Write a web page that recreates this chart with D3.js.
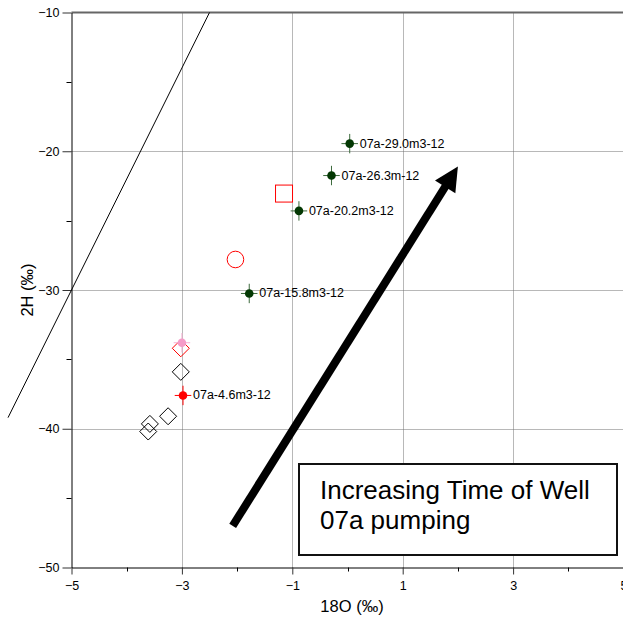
<!DOCTYPE html>
<html>
<head>
<meta charset="utf-8">
<script src="https://cdn.jsdelivr.net/npm/d3@7"></script>
<style>
  body { margin: 0; background: #fff; }
  text { font-family: "Liberation Sans", Arial, sans-serif; }
</style>
</head>
<body>
<div id="chart"></div>
<script>
// Labelled well 07a samples (18O, 2H in permil).
const wellLabels = ["07a-4.6m3-12", "07a-15.8m3-12", "07a-20.2m3-12", "07a-26.3m-12", "07a-29.0m3-12"];
const wellO18 = [-2.98, -1.78, -0.88, -0.29, 0.04];
const wellH2 = [-37.6, -30.25, -24.3, -21.75, -19.45];
const errO18 = 0.15;
const errH2 = 0.7;

// Other samples.
const pinkO18 = [-3.0];
const pinkH2 = [-33.8];
const redDiamondO18 = [-3.02];
const redDiamondH2 = [-34.2];
const diamondO18 = [-3.02, -3.25, -3.58, -3.61];
const diamondH2 = [-35.9, -39.1, -39.65, -40.2];
const squareO18 = [-1.15];
const squareH2 = [-23.05];
const circleO18 = [-2.03];
const circleH2 = [-27.8];

// Global meteoric water line: 2H = 8 * 18O + 10
const gmwlSlope = 8;
const gmwlIntercept = 10;
const gmwlRange = [-6.15, -2.5];

// Axis ticks
const xTicks = [-5, -3, -1, 1, 3, 5];
const xMinor = [-4, -2, 0, 2, 4];
const yTicks = [-10, -20, -30, -40, -50];
const yMinor = [-15, -25, -35, -45];

// Annotation
const arrowFrom = [-2.08, -47.0];
const arrowTo = [2.0, -21.1];
const boxLines = ["Increasing Time of Well", "07a pumping"];

let width = 623, height = 617;
let margin = {top: 12.5, left: 71.5};
let plot_right = 623.5, plot_bottom = 567.5;

let svg = d3.select("#chart")
.append("svg")
.attr("width", width)
.attr("height", height);

let x = d3.scaleLinear().domain([-5, 5]).range([margin.left, plot_right]);
let y = d3.scaleLinear().domain([-50, -10]).range([plot_bottom, margin.top]);

// Grid lines
svg.append("g")
.selectAll("line")
.data(xTicks.filter(d => d > -5))
.enter()
.append("line")
.attr("x1", d => Math.round(x(d)) + 0.5)
.attr("x2", d => Math.round(x(d)) + 0.5)
.attr("y1", y(-10))
.attr("y2", y(-50))
.attr("stroke", "#707070")
.attr("stroke-dasharray", "1,1");

svg.append("g")
.selectAll("line")
.data(yTicks.filter(d => d > -50 && d < -10))
.enter()
.append("line")
.attr("x1", x(-5))
.attr("x2", x(5))
.attr("y1", d => Math.round(y(d)) + 0.5)
.attr("y2", d => Math.round(y(d)) + 0.5)
.attr("stroke", "#707070")
.attr("stroke-dasharray", "1,1");

// Top border
svg.append("line")
.attr("x1", x(-5)).attr("x2", width)
.attr("y1", y(-10)).attr("y2", y(-10))
.attr("stroke", "#666")
.attr("stroke-width", 2);

// Axes
let xAxis = svg.append("g")
.attr("transform", "translate(0," + plot_bottom + ")")
.call(d3.axisBottom(x).tickValues(xTicks).tickSize(7).tickSizeOuter(0).tickPadding(7));
xAxis.append("g")
.selectAll("line")
.data(xMinor)
.enter()
.append("line")
.attr("x1", d => Math.round(x(d)) + 0.5)
.attr("x2", d => Math.round(x(d)) + 0.5)
.attr("y1", 0).attr("y2", 4)
.attr("stroke", "#000");

let yAxis = svg.append("g")
.attr("transform", "translate(" + margin.left + ",0)")
.call(d3.axisLeft(y).tickValues(yTicks).tickSize(9).tickSizeOuter(0).tickPadding(3));
yAxis.append("g")
.selectAll("line")
.data(yMinor)
.enter()
.append("line")
.attr("y1", d => Math.round(y(d)) + 0.5)
.attr("y2", d => Math.round(y(d)) + 0.5)
.attr("x1", 0).attr("x2", -5)
.attr("stroke", "#000");

svg.selectAll(".tick text")
.style("font-size", "12.5px")
.style("font-family", "Liberation Sans, Arial, sans-serif")
.attr("fill", "#000");
svg.selectAll(".domain").attr("stroke", "#000");
svg.selectAll(".tick line").attr("stroke", "#333");

// Axis titles
svg.append("text")
.attr("x", 352)
.attr("y", 612)
.attr("text-anchor", "middle")
.style("font-size", "16.5px")
.text("18O (‰)");

svg.append("text")
.attr("transform", "translate(33,290) rotate(-90)")
.attr("text-anchor", "middle")
.style("font-size", "16.5px")
.text("2H (‰)");

// GMWL
svg.append("line")
.attr("x1", x(gmwlRange[0]))
.attr("y1", y(gmwlSlope * gmwlRange[0] + gmwlIntercept))
.attr("x2", x(gmwlRange[1]))
.attr("y2", y(gmwlSlope * gmwlRange[1] + gmwlIntercept))
.attr("stroke", "#000")
.attr("stroke-width", 1);

// Open markers
const diamond = (cx, cy, r) => "M" + cx + "," + (cy - r) + "L" + (cx + r) + "," + cy +
  "L" + cx + "," + (cy + r) + "L" + (cx - r) + "," + cy + "Z";

svg.append("g")
.selectAll("path")
.data(diamondO18.map((d, i) => [d, diamondH2[i]]))
.enter()
.append("path")
.attr("d", d => diamond(x(d[0]), y(d[1]), 8.5))
.attr("fill", "none")
.attr("stroke", "#000");

svg.append("g")
.selectAll("path")
.data(redDiamondO18.map((d, i) => [d, redDiamondH2[i]]))
.enter()
.append("path")
.attr("d", d => diamond(x(d[0]), y(d[1]), 8.5))
.attr("fill", "none")
.attr("stroke", "red");

svg.append("g")
.selectAll("rect")
.data(squareO18.map((d, i) => [d, squareH2[i]]))
.enter()
.append("rect")
.attr("x", d => x(d[0]) - 8.5)
.attr("y", d => y(d[1]) - 8.5)
.attr("width", 17)
.attr("height", 17)
.attr("fill", "none")
.attr("stroke", "red");

svg.append("g")
.selectAll("circle")
.data(circleO18.map((d, i) => [d, circleH2[i]]))
.enter()
.append("circle")
.attr("cx", d => x(d[0]))
.attr("cy", d => y(d[1]))
.attr("r", 8.3)
.attr("fill", "none")
.attr("stroke", "red");

// Filled points with error bars
const drawErrPoints = (pts, fill, barColor) => {
  let g = svg.append("g");
  pts.forEach(p => {
    g.append("line")
    .attr("x1", x(p[0] - errO18)).attr("x2", x(p[0] + errO18))
    .attr("y1", y(p[1])).attr("y2", y(p[1]))
    .attr("stroke", barColor);
    g.append("line")
    .attr("x1", x(p[0])).attr("x2", x(p[0]))
    .attr("y1", y(p[1] - errH2)).attr("y2", y(p[1] + errH2))
    .attr("stroke", barColor);
    g.append("circle")
    .attr("cx", x(p[0]))
    .attr("cy", y(p[1]))
    .attr("r", 4.3)
    .attr("fill", fill);
  });
};

drawErrPoints(pinkO18.map((d, i) => [d, pinkH2[i]]), "#f59cc8", "#f7b3d4");

let wellColor = d3.scaleOrdinal()
.domain(wellLabels)
.range(["#ff0000", "#033803", "#033803", "#033803", "#033803"]);
let wellBar = d3.scaleOrdinal()
.domain(wellLabels)
.range(["#ff0000", "#3d6b3d", "#3d6b3d", "#3d6b3d", "#3d6b3d"]);

wellLabels.forEach((name, i) => {
  drawErrPoints([[wellO18[i], wellH2[i]]], wellColor(name), wellBar(name));
  svg.append("text")
  .attr("x", x(wellO18[i]) + 10)
  .attr("y", y(wellH2[i]))
  .attr("dominant-baseline", "central")
  .style("font-size", "12.5px")
  .text(name);
});

// Arrow
let ax0 = x(arrowFrom[0]), ay0 = y(arrowFrom[1]);
let ax1 = x(arrowTo[0]), ay1 = y(arrowTo[1]);
let len = Math.hypot(ax1 - ax0, ay1 - ay0);
let ux = (ax1 - ax0) / len, uy = (ay1 - ay0) / len;
let headLen = 24, headHalf = 12;
let bx = ax1 - ux * headLen, by = ay1 - uy * headLen;

svg.append("line")
.attr("x1", ax0).attr("y1", ay0)
.attr("x2", bx + ux * 2).attr("y2", by + uy * 2)
.attr("stroke", "#000")
.attr("stroke-width", 8);

svg.append("path")
.attr("d", "M" + ax1 + "," + ay1 +
  "L" + (bx - uy * headHalf) + "," + (by + ux * headHalf) +
  "L" + (bx + uy * headHalf) + "," + (by - ux * headHalf) + "Z")
.attr("fill", "#000");

// Text box
svg.append("rect")
.attr("x", 299)
.attr("y", 464)
.attr("width", 318)
.attr("height", 91)
.attr("fill", "#fff")
.attr("stroke", "#111")
.attr("stroke-width", 2);

svg.append("g")
.selectAll("text")
.data(boxLines)
.enter()
.append("text")
.attr("x", 320)
.attr("y", (d, i) => 499 + i * 30)
.style("font-size", "26px")
.text(d => d);
</script>
</body>
</html>
